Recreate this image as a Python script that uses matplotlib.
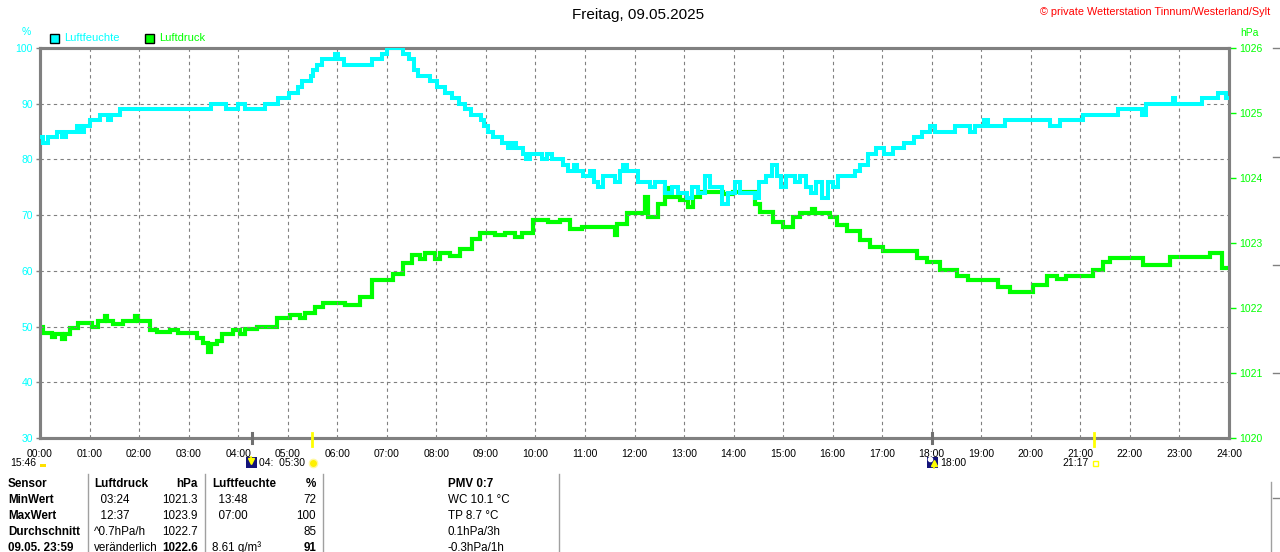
import matplotlib
matplotlib.use('Agg')
import matplotlib.pyplot as plt
from matplotlib.patches import Rectangle
import matplotlib.transforms as mtrans

plt.rcParams['font.family'] = ['Liberation Sans', 'DejaVu Sans']

# humidity (%) - step breakpoints, time in hours
hum_t = [0.0, 0.06, 0.16, 0.34, 0.44, 0.52, 0.75, 0.83, 0.89, 1.01, 1.21, 1.37, 1.43, 1.61,
         3.45, 3.75, 4.0, 4.14, 4.54, 4.8, 5.03, 5.21, 5.29, 5.47, 5.51, 5.59, 5.69, 5.95,
         6.02, 6.14, 6.7, 6.9, 7.0, 7.33, 7.45, 7.55, 7.63, 7.87, 8.01, 8.17, 8.32, 8.46,
         8.58, 8.7, 8.9, 8.96, 9.04, 9.14, 9.33, 9.45, 9.53, 9.61, 9.75, 9.81, 9.89, 10.13,
         10.23, 10.34, 10.56, 10.66, 10.78, 10.84, 10.96, 11.1, 11.18, 11.26, 11.36, 11.61,
         11.71, 11.77, 11.85, 12.07, 12.31, 12.41, 12.62, 12.76, 12.88, 13.06, 13.16, 13.28,
         13.42, 13.52, 13.77, 13.89, 14.03, 14.13, 14.43, 14.51, 14.65, 14.78, 14.88, 14.96,
         15.06, 15.24, 15.34, 15.46, 15.56, 15.66, 15.79, 15.91, 16.01, 16.11, 16.45, 16.55,
         16.71, 16.88, 17.04, 17.22, 17.44, 17.64, 17.8, 17.97, 18.07, 18.47, 18.77, 18.87,
         19.06, 19.14, 19.48, 20.39, 20.59, 21.05, 21.76, 22.24, 22.33, 22.87, 22.91, 23.46,
         23.78, 23.94, 24.0]
hum_v = [84, 83, 84, 85, 84, 85, 86, 85, 86, 87, 88, 87, 88, 89,
         90, 89, 90, 89, 90, 91, 92, 93, 94, 95, 96, 97, 98, 99,
         98, 97, 98, 99, 100, 99, 98, 96, 95, 94, 93, 92, 91, 90,
         89, 88, 87, 86, 85, 84, 83, 82, 83, 82, 81, 80, 81, 80,
         81, 80, 79, 78, 79, 78, 77, 78, 76, 75, 77, 76,
         78, 79, 78, 76, 75, 76, 74, 75, 74, 73, 75, 74,
         77, 75, 72, 74, 76, 74, 73, 76, 77, 79, 77, 75,
         77, 76, 77, 75, 74, 76, 73, 76, 75, 77, 78, 79,
         81, 82, 81, 82, 83, 84, 85, 86, 85, 86, 85, 86,
         87, 86, 87, 86, 87, 88, 89, 88, 90, 91, 90, 91,
         92, 91, 91]

# pressure (hPa)
prs_t = [0.0, 0.06, 0.24, 0.3, 0.44, 0.5, 0.61, 0.77, 1.05, 1.17, 1.31, 1.35, 1.47, 1.67,
         1.92, 1.98, 2.22, 2.36, 2.62, 2.79, 2.97, 3.17, 3.29, 3.39, 3.45, 3.57, 3.67, 3.9,
         4.04, 4.14, 4.38, 4.78, 5.05, 5.25, 5.35, 5.55, 5.71, 6.16, 6.46, 6.7, 7.13, 7.33,
         7.51, 7.67, 7.77, 7.97, 8.07, 8.28, 8.48, 8.72, 8.88, 9.18, 9.39, 9.59, 9.73, 9.95,
         10.25, 10.5, 10.7, 10.94, 11.3, 11.61, 11.65, 11.85, 12.21, 12.27, 12.47, 12.62,
         12.68, 12.92, 13.08, 13.18, 13.32, 13.79, 13.99, 14.43, 14.53, 14.8, 14.99, 15.2,
         15.34, 15.58, 15.64, 15.95, 16.09, 16.29, 16.55, 16.75, 17.02, 17.7, 17.9, 18.17,
         18.51, 18.73, 19.34, 19.58, 20.04, 20.33, 20.53, 20.71, 20.99, 21.26, 21.46, 21.6,
         22.26, 22.81, 23.62, 23.86, 24.0]
prs_v = [1021.71, 1021.61, 1021.55, 1021.6, 1021.53, 1021.6, 1021.7, 1021.77, 1021.71, 1021.8,
         1021.87, 1021.8, 1021.76, 1021.8, 1021.88, 1021.8, 1021.66, 1021.63, 1021.66, 1021.61,
         1021.61, 1021.54, 1021.46, 1021.33, 1021.45, 1021.5, 1021.6, 1021.66, 1021.6, 1021.68,
         1021.71, 1021.85, 1021.9, 1021.85, 1021.92, 1022.02, 1022.07, 1022.05, 1022.17, 1022.43,
         1022.53, 1022.69, 1022.82, 1022.76, 1022.85, 1022.76, 1022.84, 1022.8, 1022.91, 1023.06,
         1023.15, 1023.12, 1023.16, 1023.1, 1023.16, 1023.35, 1023.33, 1023.36, 1023.22, 1023.25,
         1023.24, 1023.12, 1023.3, 1023.46, 1023.71, 1023.4, 1023.6, 1023.85, 1023.71, 1023.66,
         1023.56, 1023.71, 1023.79, 1023.76, 1023.79, 1023.6, 1023.48, 1023.33, 1023.25, 1023.4,
         1023.46, 1023.52, 1023.46, 1023.4, 1023.28, 1023.18, 1023.05, 1022.94, 1022.87, 1022.77,
         1022.71, 1022.58, 1022.49, 1022.43, 1022.33, 1022.24, 1022.36, 1022.49, 1022.45, 1022.49,
         1022.5, 1022.58, 1022.71, 1022.77, 1022.66, 1022.79, 1022.84, 1022.62, 1022.62]

hours = list(range(25))
hour_labels = ["%02d:00" % h for h in hours]
hum_ticks = [30, 40, 50, 60, 70, 80, 90, 100]
prs_ticks = [1020, 1021, 1022, 1023, 1024, 1025, 1026]

sun_times = [5.5, 21.283]     # sunrise 05:30, sunset 21:17
moon_times = [4.28, 18.0]

table_cols = [
    ["Sensor", "MinWert", "MaxWert", "Durchschnitt", "09.05. 23:59"],
    ["Luftdruck", "  03:24", "  12:37", "^0.7hPa/h", "veränderlich"],
    ["hPa", "1021.3", "1023.9", "1022.7", "1022.6"],
    ["Luftfeuchte", "  13:48", "  07:00", "", "8.61 g/m³"],
    ["%", "72", "100", "85", "91"],
    ["PMV 0:7", "WC 10.1 °C", "TP 8.7 °C", "0.1hPa/3h", "-0.3hPa/1h"],
]

CY = '#00FFFF'
GR = '#00FF00'
GRAY = '#808080'
W, H = 1280, 552

def px(x, y):
    return x / W, 1 - y / H

def fig_marker(x, y, **kw):
    fig.add_artist(plt.Line2D([x / W], [1 - y / H], transform=fig.transFigure,
                              linestyle='none', **kw))

fig = plt.figure(figsize=(W / 100, H / 100), dpi=100, facecolor='white')
ax = fig.add_axes([40 / W, (H - 438) / H, 1189 / W, 390 / H])
ax2 = ax.twinx()

ax.set_xlim(0, 24)
ax.set_ylim(30, 100)
ax2.set_ylim(1020, 1026)

ax.step(hum_t, hum_v, where='post', color=CY, lw=2.9, zorder=4, solid_joinstyle='miter')
ax2.step(prs_t, prs_v, where='post', color=GR, lw=3.0, zorder=3, solid_joinstyle='miter')
ax.set_zorder(ax2.get_zorder() + 1)
ax.patch.set_visible(False)

ax.set_xticks(hours)
ax.set_xticklabels(hour_labels, fontsize=7.5, color='black')
ax.tick_params(axis='x', length=0, pad=8)
ax.set_yticks(hum_ticks)
ax.set_yticklabels([str(v) for v in hum_ticks], fontsize=7.5, color=CY)
ax.tick_params(axis='y', length=3, width=1, color=GRAY, pad=2)
ax2.set_yticks(prs_ticks)
ax2.set_yticklabels([str(v) for v in prs_ticks], fontsize=7.5, color=GR)
ax2.tick_params(axis='y', length=5, width=1, color=GR, pad=2)

ax.grid(True, color=GRAY, lw=0.8, linestyle=(0, (3, 3)))
for a in (ax, ax2):
    for s in a.spines.values():
        s.set_color(GRAY)
        s.set_linewidth(2.2)

# sun / moon markers on the time axis
trans = mtrans.blended_transform_factory(ax.transData, ax.transAxes)
for t in sun_times:
    ax.plot([t, t], [0.012, -0.021], color='#FFFF00', lw=2, transform=trans, clip_on=False, zorder=6)
for t in moon_times:
    ax.plot([t, t], [0.012, -0.014], color='#707070', lw=2.2, transform=trans, clip_on=False, zorder=6)

# titles and axis names
fig.text(*px(638, 15), "Freitag, 09.05.2025", ha='center', va='center', fontsize=11)
fig.text(*px(1270, 12), "© private Wetterstation Tinnum/Westerland/Sylt", ha='right',
         va='center', fontsize=7.8, color='red')
fig.text(*px(26, 32), "%", ha='center', va='center', fontsize=7.5, color=CY)
fig.text(*px(1240, 33), "hPa", ha='left', va='center', fontsize=7.5, color=GR)

# legend
for x0, col, lab in [(50, CY, "Luftfeuchte"), (145, GR, "Luftdruck")]:
    fig.patches.append(Rectangle(px(x0, 43), 9 / W, 9 / H, transform=fig.transFigure,
                                 facecolor=col, edgecolor='black', lw=1))
    fig.text(*px(x0 + 14, 38), lab, ha='left', va='center', fontsize=8, color=col)

# sun/moon text row
fig.text(*px(10, 463), "15:46", ha='left', va='center', fontsize=7.5)
fig.patches.append(Rectangle(px(40, 467), 6 / W, 3 / H, transform=fig.transFigure,
                             facecolor='#FFE000', edgecolor='none'))
fig.patches.append(Rectangle(px(246, 468), 11 / W, 11 / H, transform=fig.transFigure,
                             facecolor='#14147A', edgecolor='none'))
fig_marker(251, 461, marker='v', ms=4, color='#FFFF00')
fig.add_artist(plt.Line2D([251 / W] * 2, [1 - 457 / H, 1 - 462 / H], transform=fig.transFigure,
                          color='#FFFF00', lw=1.2))
fig.text(*px(259, 463), "04:  05:30", ha='left', va='center', fontsize=7.5)
fig_marker(313, 463, marker='o', ms=6, color='#FFF000', markeredgecolor='#FFF8A0')
fig.patches.append(Rectangle(px(927, 468), 11 / W, 11 / H, transform=fig.transFigure,
                             facecolor='#14147A', edgecolor='none'))
fig_marker(934, 463, marker='^', ms=4, color='#FFFF00')
fig.add_artist(plt.Line2D([934 / W] * 2, [1 - 464 / H, 1 - 468 / H], transform=fig.transFigure,
                          color='#FFFF00', lw=1.2))
fig_marker(930, 459, marker='o', ms=3, color='white')
fig.text(*px(940, 463), "18:00", ha='left', va='center', fontsize=7.5)
fig.text(*px(1089, 463), "21:17", ha='right', va='center', fontsize=7.5)
fig.patches.append(Rectangle(px(1093, 466), 5 / W, 5 / H, transform=fig.transFigure,
                             facecolor='none', edgecolor='#FFFF00', lw=1))

# table
col_x = [(8, 'left'), (94, 'left'), (198, 'right'), (212, 'left'), (316, 'right'), (448, 'left')]
row_y = [484, 500, 516, 532, 548]
for ci, ((x, ha), col) in enumerate(zip(col_x, table_cols)):
    for ri, (y, txt) in enumerate(zip(row_y, col)):
        bold = ri == 0 or ci == 0 or (ri == 4 and ci in (2, 4))
        fig.text(*px(x, y), txt, ha=ha, va='center', fontsize=8.4,
                 fontweight='bold' if bold else 'normal')
for xs in [88, 205, 323, 559]:
    fig.add_artist(plt.Line2D([xs / W, xs / W], [1 - 474 / H, 0], transform=fig.transFigure,
                              color='#A0A0A0', lw=1))

# edge of the neighbouring panel
fig.add_artist(plt.Line2D([1271 / W, 1271 / W], [1 - 482 / H, 0], transform=fig.transFigure,
                          color='#A0A0A0', lw=1))
for yy in [48, 157, 265, 373, 498]:
    fig.add_artist(plt.Line2D([1273 / W, 1279 / W], [1 - yy / H] * 2, transform=fig.transFigure,
                              color=GRAY, lw=1))

fig.savefig("out.png", dpi=100, facecolor='white')
